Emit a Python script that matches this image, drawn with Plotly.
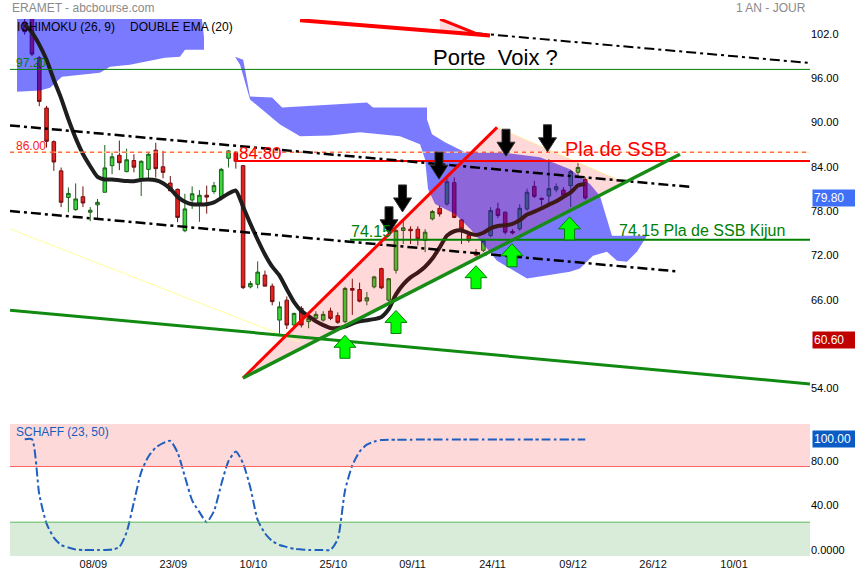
import plotly.graph_objects as go

# ---------------- data ----------------
opens = [103.6, 104.8, 98.77, 91.97, 87.42, 83.47, 79.87, 78.22, 79.97, 77.87,
         78.87, 80.57, 84.17, 85.57, 83.37, 84.87, 82.37, 83.67, 86.27, 84.02,
         81.82, 80.97, 75.37, 79.52, 79.12, 80.17, 80.67, 79.97, 85.17, 85.97,
         84.17, 67.77, 68.12, 69.37, 67.87, 63.27, 65.97, 62.61, 64.86, 63.07,
         63.51, 63.27, 64.50, 63.87, 63.07, 67.55, 67.41, 65.87, 67.77, 70.24,
         65.97, 70.02, 75.40, 75.57, 75.57, 74.05, 76.97, 78.40, 78.99, 81.87,
         76.83, 74.72, 72.47, 72.71, 74.72, 78.31, 77.87, 75.27, 75.62, 78.31,
         81.37, 79.75, 80.07, 80.92, 80.87, 81.47, 83.27, 82.30]
highs = [104.2, 105.2, 99.0, 92.27, 87.6, 83.92, 81.23, 81.77, 81.37, 78.57,
         79.67, 86.97, 86.07, 87.57, 86.47, 85.72, 84.87, 85.87, 87.27, 86.17,
         82.77, 81.07, 80.37, 81.37, 80.87, 81.47, 81.97, 83.87, 86.27, 86.17,
         84.27, 68.57, 71.22, 69.97, 68.22, 65.77, 66.47, 64.27, 65.17, 64.17,
         64.47, 64.47, 64.95, 64.32, 67.77, 68.87, 68.35, 67.07, 69.27, 70.37,
         68.97, 75.62, 76.97, 75.97, 75.97, 75.57, 78.17, 78.77, 82.57, 82.57,
         76.97, 75.17, 72.87, 74.27, 78.57, 79.17, 77.97, 75.57, 78.97, 81.07,
         82.13, 79.87, 85.07, 81.77, 81.27, 83.60, 84.60, 82.60]
lows = [101.9, 99.0, 92.22, 86.62, 83.47, 78.57, 77.87, 78.07, 78.57, 76.67,
        77.07, 80.57, 83.02, 83.57, 83.27, 83.27, 80.07, 82.37, 82.57, 82.47,
        80.77, 76.52, 75.17, 78.32, 76.57, 77.67, 80.37, 79.87, 83.92, 83.77,
        67.47, 67.57, 67.57, 67.87, 65.27, 61.37, 62.07, 62.17, 62.27, 62.17,
        62.97, 63.07, 63.27, 62.77, 62.87, 63.97, 65.67, 65.27, 67.57, 67.47,
        65.77, 69.57, 73.57, 73.57, 73.37, 72.47, 76.77, 77.27, 78.77, 77.07,
        73.57, 73.77, 71.87, 72.47, 74.47, 77.07, 74.87, 74.87, 75.37, 78.07,
        79.77, 78.77, 78.77, 80.57, 79.77, 78.57, 82.80, 79.57]
closes = [102.3, 99.27, 92.87, 87.47, 84.67, 79.22, 80.42, 79.67, 79.12, 78.14,
          79.22, 83.87, 85.37, 84.57, 84.97, 83.97, 84.77, 85.72, 83.77, 83.27,
          80.77, 77.17, 78.32, 80.37, 80.17, 79.92, 81.47, 83.67, 86.17, 84.77,
          67.67, 68.22, 69.77, 67.87, 65.77, 65.07, 62.61, 64.18, 62.61, 63.51,
          64.05, 64.05, 63.51, 62.97, 67.55, 67.32, 65.84, 66.29, 69.12, 67.64,
          68.87, 75.40, 75.76, 75.37, 74.27, 75.17, 77.97, 77.64, 81.99, 77.17,
          75.62, 74.07, 72.07, 74.05, 78.09, 77.42, 75.17, 75.07, 78.40, 80.57,
          80.02, 79.62, 81.07, 81.32, 80.17, 83.37, 83.92, 79.80]

double_ema = [103.3, 102.2, 100.55, 98.5, 95.8, 93.3, 90.45, 87.9, 85.75, 84.1,
              82.65, 82.3, 82.3, 82.2, 82.1, 82.05, 82.25, 82.3, 82.2, 81.8,
              81.05, 79.95, 79.3, 78.95, 78.9, 78.95, 79.2, 79.8, 80.4, 80.8,
              78.6, 76.3, 74.15, 72.15, 70.5, 69.3, 67.45, 65.7, 64.5, 63.8,
              63.1, 62.6, 62.2, 62.2, 62.4, 62.8, 63.1, 63.25, 63.4, 63.7,
              64.75, 66.75, 68.1, 69.05, 69.7, 70.5, 71.6, 73.1, 74.7, 75.3,
              75.4, 75.05, 74.8, 75.1, 75.7, 76.0, 76.1, 76.3, 76.8, 77.55,
              77.95, 78.4, 78.9, 79.35, 79.95, 80.55, 81.5, 81.7]

schaff = [99.4, 99.4, 50, 23.7, 11.2, 4.5, 2.2, 0.5, 0, 0,
          0, 0, 0.4, 2.7, 16, 43, 70, 84, 92, 96,
          98, 87.5, 66, 44.6, 34, 25, 35, 59, 80, 88.4,
          77.7, 56, 27, 15, 8, 4.5, 2.7, 1, 0.5, 0,
          0, 0, 0, 10, 53.5, 76, 88.4, 94.6, 97.3, 98.7,
          99.0, 99.1, 99.1, 99.1, 99.2, 99.2, 99.2, 99.2, 99.2, 99.2,
          99.2, 99.2, 99.2, 99.2, 99.2, 99.2, 99.2, 99.2, 99.2, 99.2,
          99.2, 99.2, 99.2, 99.2, 99.2, 99.2, 99.2, 99.2]

tick_pos = [9.42, 20.41, 31.40, 42.39, 53.27, 64.26, 75.32, 86.31, 97.44]
tick_labels = ["08/09", "23/09", "10/10", "25/10", "09/11", "24/11", "09/12", "26/12", "10/01"]

price_ticks = [54, 66, 72, 78, 84, 90, 96, 102]
price_tick_text = ["54.00", "66.00", "72.00", "78.00", "84.00", "90.00", "96.00", "102.0"]

# Ichimoku cloud outlines (candle index, price)
cloud_a_x = [-1.06, -1.06, 2.10, 3.48, 5.12, 10.34, 11.72, 14.46, 16.52, 19.27, 21.33, 22.02, 24.63, 24.63, 24.22]
cloud_a_y = [105, 94.19, 94.33, 94.73, 96.21, 96.74, 97.56, 97.83, 98.23, 98.77, 98.90, 99.85, 99.85, 101.6, 105]
cloud_b_x = [28.89, 30.01, 30.95, 33.98, 35.36, 47.02, 47.84, 55.26, 55.26, 55.95, 57.73, 60.48, 65.29,
             70.78, 74.90, 77.65, 79.02, 80.67, 85.48, 84.93, 84.10, 82.73, 81.36, 79.98, 78.06, 76.27,
             74.90, 69.0, 64.88, 63.51, 61.17, 59.11, 56.36, 55.40, 54.99, 54.30, 51.55, 46.06, 41.94,
             37.82, 35.07, 30.95, 29.58]
cloud_b_y = [98.90, 98.50, 93.52, 93.39, 92.04, 92.71, 92.04, 92.04, 90.43, 88.41, 87.33, 85.98, 85.98,
             85.31, 83.70, 81.68, 80.06, 74.68, 74.68, 73.87, 72.52, 71.18, 71.31, 72.52, 71.99, 70.24,
             69.83, 68.89, 71.31, 72.93, 75.62, 77.64, 78.99, 81.00, 85.04, 87.06, 88.14, 88.68, 88.27,
             88.14, 89.75, 93.12, 97.83]

# drawn lines (candle index, price)
channel_upper = [(-2.02, 89.62), (91.8, 81.27)]
channel_lower = [(-2.02, 78.04), (89.6, 69.87)]
channel_top = [(62.13, 102.09), (107.87, 98.06)]
long_support = [(-2.02, 64.62), (107.87, 54.62)]
faint_line = [(-2.02, 75.62), (37.82, 60.28)]
wedge_red = [(29.99, 55.43), (64.88, 89.35)]
wedge_green = [(29.99, 55.43), (90.01, 85.71)]
wedge_apex = (82.46, 81.81)
top_red_1 = [(37.82, 103.85), (63.91, 101.8)]
top_red_2 = [(57.05, 104.02), (62.29, 101.93)]
top_red_fill = [(57.05, 104.02), (62.29, 101.93), (57.05, 102.5)]

level_9720 = 97.20
level_8600 = 86.00
level_8480 = 84.80
level_7415 = 74.15
ssb_start = 28.9
kijun_start = 44.68

down_arrows_x = [50.04, 51.9, 56.91, 66.11, 71.81]
down_arrows_y = [74.95, 77.91, 82.35, 85.45, 86.05]
up_arrows_x = [43.99, 51.0, 61.99, 66.93, 74.84]
up_arrows_y = [61.22, 64.58, 70.64, 73.6, 77.24]

last_price = 79.80
marked_low = 60.60
schaff_last = 100.0

# ---------------- figure ----------------
X_RANGE = [-2.02, 107.87]
Y_RANGE = [51.13, 104.02]
Y2_RANGE = [-5.36, 113.4]
FONT = "Liberation Sans, Arial, sans-serif"
idx = list(range(len(opens)))

fig = go.Figure()

fig.add_trace(go.Candlestick(
    x=idx, open=opens, high=highs, low=lows, close=closes,
    increasing=dict(fillcolor="#3ad83a", line=dict(color="#1d5e1d", width=1)),
    decreasing=dict(fillcolor="#e82020", line=dict(color="#6b1010", width=1)),
    whiskerwidth=0, xaxis="x", yaxis="y", showlegend=False, hoverinfo="skip"))

for cx, cy in [(cloud_a_x, cloud_a_y), (cloud_b_x, cloud_b_y)]:
    fig.add_trace(go.Scatter(x=cx, y=cy, fill="toself", fillcolor="rgba(0,0,255,0.52)",
                             mode="lines", line=dict(width=0), xaxis="x", yaxis="y",
                             showlegend=False, hoverinfo="skip"))

fig.add_trace(go.Scatter(x=idx, y=double_ema, mode="lines",
                         line=dict(color="#1e1e1e", width=4, shape="spline", smoothing=0.6),
                         xaxis="x", yaxis="y", showlegend=False, hoverinfo="skip"))

fig.add_trace(go.Scatter(x=idx, y=schaff, mode="lines",
                         line=dict(color="#1f5fbf", width=2, dash="9px,3px,3px,3px",
                                   shape="spline", smoothing=0.6),
                         xaxis="x2", yaxis="y2", showlegend=False, hoverinfo="skip"))

shapes = []
# lower panel bands
shapes.append(dict(type="rect", xref="x2 domain", yref="y2", x0=0, x1=1, y0=75, y1=Y2_RANGE[1],
                   fillcolor="#fdd9d9", line=dict(width=0), layer="below"))
shapes.append(dict(type="rect", xref="x2 domain", yref="y2", x0=0, x1=1, y0=Y2_RANGE[0], y1=25,
                   fillcolor="#d9ebd9", line=dict(width=0), layer="below"))
shapes.append(dict(type="line", xref="x2 domain", yref="y2", x0=0, x1=1, y0=75, y1=75,
                   line=dict(color="#ff6666", width=1)))
shapes.append(dict(type="line", xref="x2 domain", yref="y2", x0=0, x1=1, y0=25, y1=25,
                   line=dict(color="#5cb85c", width=1)))


def seg(pts, color, width, dash="solid"):
    (x0, y0), (x1, y1) = pts
    return dict(type="line", xref="x", yref="y", x0=x0, y0=y0, x1=x1, y1=y1,
                line=dict(color=color, width=width, dash=dash))


# pink wedge (drawn above traces, translucent)
(wx0, wy0), (wx1, wy1) = wedge_red
shapes.append(dict(type="path", xref="x", yref="y",
                   path=f"M {wx0},{wy0} L {wx1},{wy1} L {wedge_apex[0]},{wedge_apex[1]} Z",
                   fillcolor="rgba(255,0,0,0.15)", line=dict(color="#ffe79a", width=1)))
tf = top_red_fill
shapes.append(dict(type="path", xref="x", yref="y",
                   path=f"M {tf[0][0]},{tf[0][1]} L {tf[1][0]},{tf[1][1]} L {tf[2][0]},{tf[2][1]} Z",
                   fillcolor="rgba(255,0,0,0.15)", line=dict(width=0)))

# horizontal levels
shapes.append(seg([(X_RANGE[0], level_8600), (X_RANGE[1], level_8600)], "#fff0a8", 1))
shapes.append(seg([(X_RANGE[0], level_8600), (X_RANGE[1], level_8600)], "#ff2020", 1, "4px,4px"))
shapes.append(seg([(X_RANGE[0], level_9720), (X_RANGE[1], level_9720)], "#008000", 1))
shapes.append(seg([(ssb_start, level_8480), (X_RANGE[1], level_8480)], "#ff0000", 2))
shapes.append(seg([(ssb_start, level_8480 + 1.2), (ssb_start, level_8480)], "#ff0000", 2))
shapes.append(seg([(kijun_start, level_7415), (X_RANGE[1], level_7415)], "#008000", 2))

# trend lines
dashdot = "10px,4px,3px,4px"
shapes.append(seg(faint_line, "#ffff99", 1))
shapes.append(seg(channel_upper, "#000000", 2.5, dashdot))
shapes.append(seg(channel_lower, "#000000", 2.5, dashdot))
shapes.append(seg(channel_top, "#000000", 2, dashdot))
shapes.append(seg(long_support, "#108a10", 3))
shapes.append(seg(wedge_red, "#ff0000", 3))
shapes.append(seg(wedge_green, "#168c16", 3.5))
shapes.append(seg(top_red_1, "#ff0000", 4))
shapes.append(seg(top_red_2, "#ff0000", 3))

# block arrows (pixel-sized, anchored to data)
down_path = "M -4,27 L 4,27 L 4,14 L 9,14 L 0,0 L -9,14 L -4,14 Z"
up_path = "M 0,0 L 11,-12 L 5,-12 L 5,-23 L -5,-23 L -5,-12 L -11,-12 Z"
for ax_, ay_ in zip(down_arrows_x, down_arrows_y):
    shapes.append(dict(type="path", xref="x", yref="y", xsizemode="pixel", ysizemode="pixel",
                       xanchor=ax_, yanchor=ay_, path=down_path, fillcolor="#000000",
                       line=dict(color="#333333", width=1)))
for ax_, ay_ in zip(up_arrows_x, up_arrows_y):
    shapes.append(dict(type="path", xref="x", yref="y", xsizemode="pixel", ysizemode="pixel",
                       xanchor=ax_, yanchor=ay_, path=up_path, fillcolor="#00ff00",
                       line=dict(color="#008000", width=1)))

ann = []


def txt(x, y, s, size, color, xref="x", yref="y", xanchor="left"):
    ann.append(dict(x=x, y=y, xref=xref, yref=yref, text=s, showarrow=False,
                    xanchor=xanchor, yanchor="middle",
                    font=dict(size=size, color=color, family=FONT)))


txt(0.0, 1.0204, "ERAMET - abcbourse.com", 12, "#8a8a8a", "paper", "paper")
txt(0.9975, 1.0204, "1 AN - JOUR", 12, "#8a8a8a", "paper", "paper", "right")
txt(0.00625, 0.9852, "ICHIMOKU (26, 9)", 12, "#000000", "paper", "paper")
txt(0.1475, 0.9852, "DOUBLE EMA (20)", 12, "#000000", "paper", "paper")
txt(-1.5, 98.10, "97.20", 12, "#008000")
txt(-1.5, 86.79, "86.00", 12, "#ff2020")
txt(29.1, 85.85, "84.80", 17, "#ff0000")
txt(73.9, 86.39, "Pla de SSB", 20, "#ff0000")
txt(55.8, 98.77, "Porte\u00a0 Voix ?", 22, "#000000")
txt(44.6, 75.22, "74.15", 16, "#008000")
txt(81.3, 75.35, "74.15 Pla de SSB Kijun", 16, "#008000")
txt(-1.5, 106.25, "SCHAFF (23, 50)", 12, "#1060c0", "x2", "y2")


def box(y, yref, s, bg):
    ann.append(dict(x=1.0025, y=y, xref="paper", yref=yref, text=s, showarrow=False,
                    xanchor="left", yanchor="middle", align="left", width=40, height=14,
                    bgcolor=bg, borderpad=1, font=dict(size=12, color="white", family=FONT)))


box(last_price, "y", f"{last_price:.2f}", "#4070f8")
box(marked_low, "y", f"{marked_low:.2f}", "#c00000")
box(schaff_last, "y2", f"{schaff_last:.2f}", "#0a5cc4")

fig.update_layout(
    width=855, height=580,
    margin=dict(l=10, r=45, t=19, b=21),
    paper_bgcolor="white", plot_bgcolor="white",
    font=dict(family=FONT, size=11, color="#000000"),
    showlegend=False,
    shapes=shapes, annotations=ann,
    xaxis=dict(domain=[0, 1], range=X_RANGE, anchor="y", showticklabels=False,
               showgrid=False, zeroline=False, showline=False, ticks="",
               rangeslider=dict(visible=False)),
    yaxis=dict(domain=[0.2722, 1], range=Y_RANGE, side="right", anchor="x",
               tickvals=price_ticks, ticktext=price_tick_text, showgrid=False,
               zeroline=False, showline=False, ticks="", tickfont=dict(size=11, color="#000000")),
    xaxis2=dict(domain=[0, 1], range=X_RANGE, anchor="y2", matches="x",
                tickvals=tick_pos, ticktext=tick_labels, showgrid=False, zeroline=False,
                showline=False, ticks="", tickfont=dict(size=11, color="#111111")),
    yaxis2=dict(domain=[0, 0.2463], range=Y2_RANGE, side="right", anchor="x2",
                tickvals=[0, 40, 80], ticktext=["0.0000", "40.00", "80.00"], showgrid=False,
                zeroline=False, showline=False, ticks="", tickfont=dict(size=11, color="#000000")),
)

# remove the default 8px page margin so the figure sits at the window's top-left corner
fig.write_html("out.html", config={"displayModeBar": False},
               post_script="document.body.style.margin='0px';document.body.style.overflow='hidden';")
